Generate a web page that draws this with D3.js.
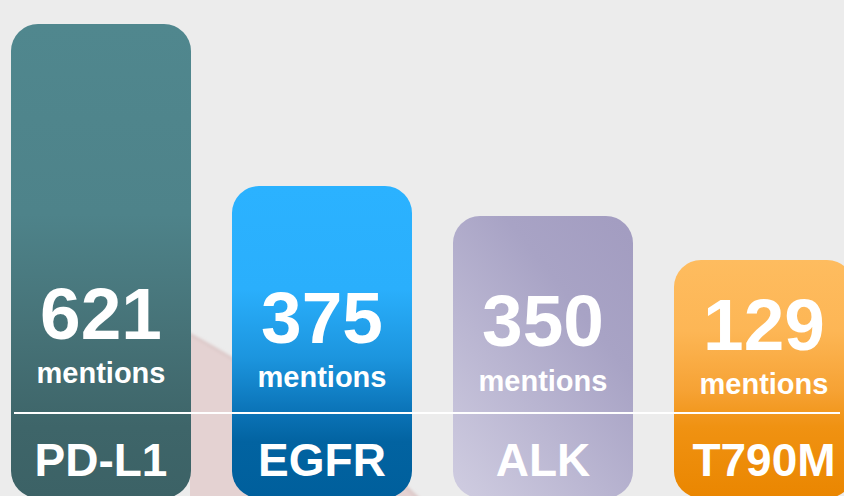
<!DOCTYPE html>
<html>
<head>
<meta charset="utf-8">
<script src="https://cdn.jsdelivr.net/npm/d3@7"></script>
<style>
  html, body { margin: 0; padding: 0; background: #ececec; overflow: hidden; }
  text { font-family: "Liberation Sans", Arial, sans-serif; font-weight: bold; fill: #fff; }
</style>
</head>
<body>
<svg id="chart" width="844" height="496"></svg>
<script>
// mentions per biomarker
const markers = ["PD-L1", "EGFR", "ALK", "T790M"];
const mentions = [621, 375, 350, 129];
const unitLabel = "mentions";

const svg = d3.select("#chart");
const width = +svg.attr("width");
const height = +svg.attr("height");

const x = d3.scaleBand()
    .domain(markers)
    .range([11, 854])
    .paddingInner(0.1855)
    .paddingOuter(0);

// infographic bars are not to scale, so use a piecewise scale
const y = d3.scaleLinear()
    .domain([129, 350, 375, 621])
    .range([260, 216, 186, 24]);

const barBottom = 498;

const defs = svg.append("defs");

const grads = [
  { id: "g0", x1: 0, y1: 0, x2: 0, y2: 1, stops: [[0, "#50878e"], [0.4, "#4e838a"], [0.65, "#467277"], [0.85, "#3e6569"], [1, "#3c6266"]] },
  { id: "g1", x1: 0, y1: 0, x2: 0, y2: 1, stops: [[0, "#2bb2ff"], [0.33, "#2aaffc"], [0.55, "#1c95de"], [0.72, "#0b74b8"], [0.82, "#0263a1"], [1, "#005f9c"]] },
  { id: "g2", x1: 0.9, y1: 0, x2: 0.1, y2: 1, stops: [[0, "#a39dc1"], [0.3, "#a8a3c5"], [1, "#cdcadf"]] },
  { id: "g3", x1: 0, y1: 0, x2: 0, y2: 1, stops: [[0, "#febc5f"], [0.3, "#fdb655"], [0.55, "#f6a234"], [0.7, "#f09212"], [1, "#ea8600"]] }
];

grads.forEach(g => {
  const lg = defs.append("linearGradient")
      .attr("id", g.id)
      .attr("x1", g.x1).attr("y1", g.y1)
      .attr("x2", g.x2).attr("y2", g.y2);
  g.stops.forEach(s => lg.append("stop").attr("offset", s[0]).attr("stop-color", s[1]));
});

const blur = defs.append("filter").attr("id", "soft");
blur.append("feGaussianBlur").attr("stdDeviation", 1.5);

defs.append("clipPath").attr("id", "photoClip")
  .append("rect")
    .attr("x", 190).attr("y", 0)
    .attr("width", width - 190).attr("height", height);

// faint backdrop photo shape
svg.append("g")
    .attr("clip-path", "url(#photoClip)")
  .append("circle")
    .attr("cx", -366)
    .attr("cy", 1349)
    .attr("r", 1157)
    .attr("fill", "#e4d2d2")
    .attr("stroke", "#dcc8c8")
    .attr("stroke-width", 3)
    .attr("filter", "url(#soft)");

const bars = svg.append("g").selectAll("g")
    .data(markers)
    .enter()
    .append("g");

bars.append("rect")
    .attr("x", d => x(d))
    .attr("y", (d, i) => y(mentions[i]))
    .attr("width", x.bandwidth())
    .attr("height", (d, i) => barBottom - y(mentions[i]))
    .attr("rx", 27)
    .attr("fill", (d, i) => "url(#g" + i + ")");

// separator line
svg.append("line")
    .attr("x1", 14)
    .attr("x2", 840)
    .attr("y1", 413)
    .attr("y2", 413)
    .attr("stroke", "#fff")
    .attr("stroke-width", 2);

bars.append("text")
    .attr("x", d => x(d) + x.bandwidth() / 2)
    .attr("y", (d, i) => 339 + i * 3.6)
    .attr("text-anchor", "middle")
    .style("font-size", "73px")
    .text((d, i) => mentions[i]);

bars.append("text")
    .attr("x", d => x(d) + x.bandwidth() / 2)
    .attr("y", (d, i) => 383 + i * 3.8)
    .attr("text-anchor", "middle")
    .style("font-size", "29px")
    .text(unitLabel);

bars.append("text")
    .attr("x", d => x(d) + x.bandwidth() / 2)
    .attr("y", 476)
    .attr("text-anchor", "middle")
    .style("font-size", "46px")
    .text(d => d);
</script>
</body>
</html>
